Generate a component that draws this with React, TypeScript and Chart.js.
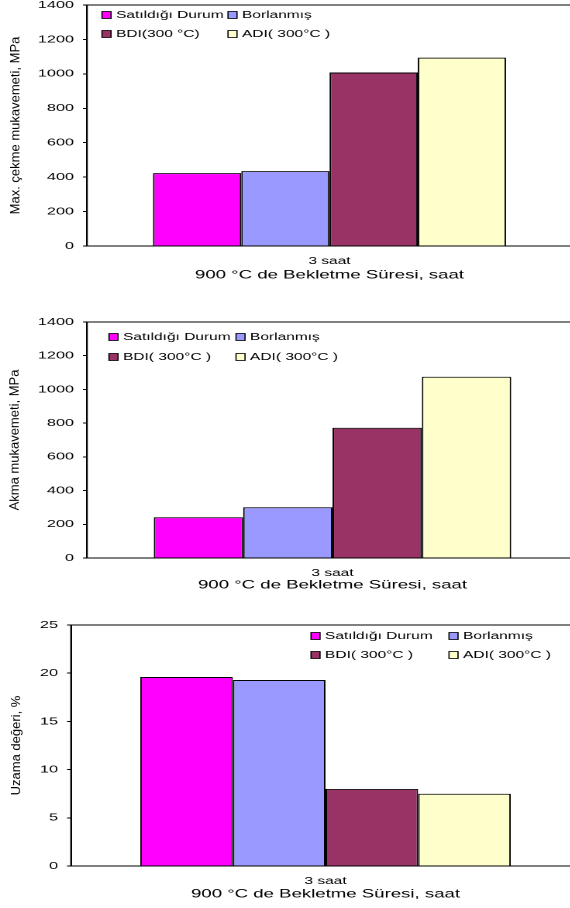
import React, { useEffect, useRef } from 'react';
import { Chart, registerables } from 'chart.js';

Chart.register(...registerables);

// ---------- data ----------
const categories = ['3 saat'];
const seriesNamesTop = ['Satıldığı Durum', 'Borlanmış', 'BDI(300 °C)', 'ADI( 300°C )'];
const seriesNames = ['Satıldığı Durum', 'Borlanmış', 'BDI( 300°C )', 'ADI( 300°C )'];
const cekmeValues = [423, 435, 1008, 1094];
const akmaValues = [242, 301, 773, 1075];
const uzamaValues = [19.6, 19.3, 8.0, 7.5];
const seriesColors = ['#FF00FF', '#9999FF', '#993366', '#FFFFCC'];
const xTitle = '900 °C de Bekletme Süresi, saat';
const yTitleCekme = 'Max. çekme mukavemeti, MPa';
const yTitleAkma = 'Akma mukavemeti, MPa';
const yTitleUzama = 'Uzama değeri, %';
const yMaxMPa = 1400;
const yStepMPa = 200;
const yMaxPct = 25;
const yStepPct = 5;

// ---------- layout (page pixels) ----------
const S = 1.55; // horizontal stretch of the whole picture
const INNER_W = Math.ceil(600 / S);
const FONT = '"Liberation Sans", Arial, sans-serif';

type Spec = {
  canvasTop: number; canvasBottom: number;
  top: number; bottom: number; left: number; right: number;
  titleCenter: number; yTitleX: number;
  legendX: number[]; legendY: number[];
};

const spec1: Spec = { canvasTop: -10, canvasBottom: 300, top: 5, bottom: 246, left: 87, right: 572, titleCenter: 275, yTitleX: 16, legendX: [116, 242], legendY: [15, 34] };
const spec2: Spec = { canvasTop: 300, canvasBottom: 600, top: 322, bottom: 558, left: 87, right: 578, titleCenter: 585, yTitleX: 15, legendX: [123, 250], legendY: [337, 357] };
const spec3: Spec = { canvasTop: 600, canvasBottom: 908, top: 625, bottom: 866, left: 71, right: 580, titleCenter: 894, yTitleX: 17, legendX: [325, 463], legendY: [636, 655] };

const decorPlugin = {
  id: 'decor',
  afterDraw(chart: any, _args: any, opts: any) {
    const { ctx, chartArea: a } = chart;
    ctx.save();
    ctx.strokeStyle = '#000';
    ctx.lineWidth = 1;
    ctx.strokeRect(a.left, a.top, a.right - a.left, a.bottom - a.top);

    // legend
    ctx.font = `10px ${FONT}`;
    ctx.textBaseline = 'middle';
    ctx.textAlign = 'left';
    chart.data.datasets.forEach((ds: any, i: number) => {
      const col = i % 2;
      const row = Math.floor(i / 2);
      const tx = opts.legendX[col] / S;
      const ty = opts.legendY[row] - opts.canvasTop;
      const sw = 9 / S;
      const sh = 7;
      const sx = tx - 14 / S;
      ctx.fillStyle = ds.backgroundColor;
      ctx.fillRect(sx, ty - sh / 2, sw, sh);
      ctx.lineWidth = 0.8;
      ctx.strokeStyle = '#000';
      ctx.strokeRect(sx, ty - sh / 2, sw, sh);
      ctx.fillStyle = '#000';
      ctx.fillText(ds.label, tx, ty);
    });

    // rotated y title
    ctx.translate(opts.yTitleX / S, (a.top + a.bottom) / 2);
    ctx.rotate(-Math.PI / 2);
    ctx.scale(1, 0.6);
    ctx.font = `13px ${FONT}`;
    ctx.textAlign = 'center';
    ctx.textBaseline = 'middle';
    ctx.fillStyle = '#000';
    ctx.fillText(opts.yTitle, 0, 0);
    ctx.restore();
  },
};

function BarPanel({ spec, names, values, max, step, yTitle }: { spec: Spec; names: string[]; values: number[]; max: number; step: number; yTitle: string }) {
  const ref = useRef<HTMLCanvasElement | null>(null);
  const H = spec.canvasBottom - spec.canvasTop;

  useEffect(() => {
    if (!ref.current) return;
    const xAxisH = spec.canvasBottom - spec.bottom;
    const titleLH = 12 * 1.2;
    const chart = new Chart(ref.current, {
      type: 'bar',
      data: {
        labels: categories,
        datasets: names.map((n, i) => ({
          label: n,
          data: [values[i]],
          backgroundColor: seriesColors[i],
          borderColor: '#000',
          borderWidth: 1,
          categoryPercentage: 0.728,
          barPercentage: 1.0,
        })),
      },
      options: {
        responsive: false,
        maintainAspectRatio: false,
        animation: false,
        devicePixelRatio: 2,
        events: [],
        layout: {
          padding: { top: spec.top - spec.canvasTop, right: INNER_W - spec.right / S, bottom: 0, left: 0 },
        },
        plugins: {
          legend: { display: false },
          tooltip: { enabled: false },
          decor: { legendX: spec.legendX, legendY: spec.legendY, canvasTop: spec.canvasTop, yTitleX: spec.yTitleX, yTitle },
        } as any,
        scales: {
          x: {
            grid: { display: false, drawTicks: false, tickLength: 0 },
            border: { display: true, color: '#000', width: 1 },
            ticks: { color: '#000', font: { family: FONT, size: 10 }, padding: 9, maxRotation: 0 },
            title: {
              display: true,
              text: xTitle,
              color: '#000',
              font: { family: FONT, size: 12 },
              padding: { top: 0, bottom: spec.canvasBottom - spec.titleCenter - titleLH / 2 },
            },
            afterFit: (sc: any) => { sc.height = xAxisH; },
          },
          y: {
            min: 0,
            max,
            ticks: {
              stepSize: step,
              color: '#000',
              font: { family: FONT, size: 10.5 },
              padding: 9 / S,
              callback: (v: any) => String(v),
            },
            grid: { display: true, drawOnChartArea: false, drawTicks: true, tickLength: 4 / S, color: '#000' },
            border: { display: true, color: '#000', width: 1 },
            afterFit: (sc: any) => { sc.width = spec.left / S; },
          },
        },
      },
      plugins: [decorPlugin],
    });
    return () => chart.destroy();
  }, []);

  return (
    <canvas
      ref={ref}
      width={INNER_W}
      height={H}
      style={{
        position: 'absolute',
        left: 0,
        top: spec.canvasTop,
        width: INNER_W,
        height: H,
        transform: `scaleX(${S})`,
        transformOrigin: '0 0',
      }}
    />
  );
}

export default function App() {
  return (
    <div style={{ position: 'absolute', left: 0, top: 0, width: 570, height: 908, overflow: 'hidden', background: '#fff' }}>
      <BarPanel spec={spec1} names={seriesNamesTop} values={cekmeValues} max={yMaxMPa} step={yStepMPa} yTitle={yTitleCekme} />
      <BarPanel spec={spec2} names={seriesNames} values={akmaValues} max={yMaxMPa} step={yStepMPa} yTitle={yTitleAkma} />
      <BarPanel spec={spec3} names={seriesNames} values={uzamaValues} max={yMaxPct} step={yStepPct} yTitle={yTitleUzama} />
    </div>
  );
}
